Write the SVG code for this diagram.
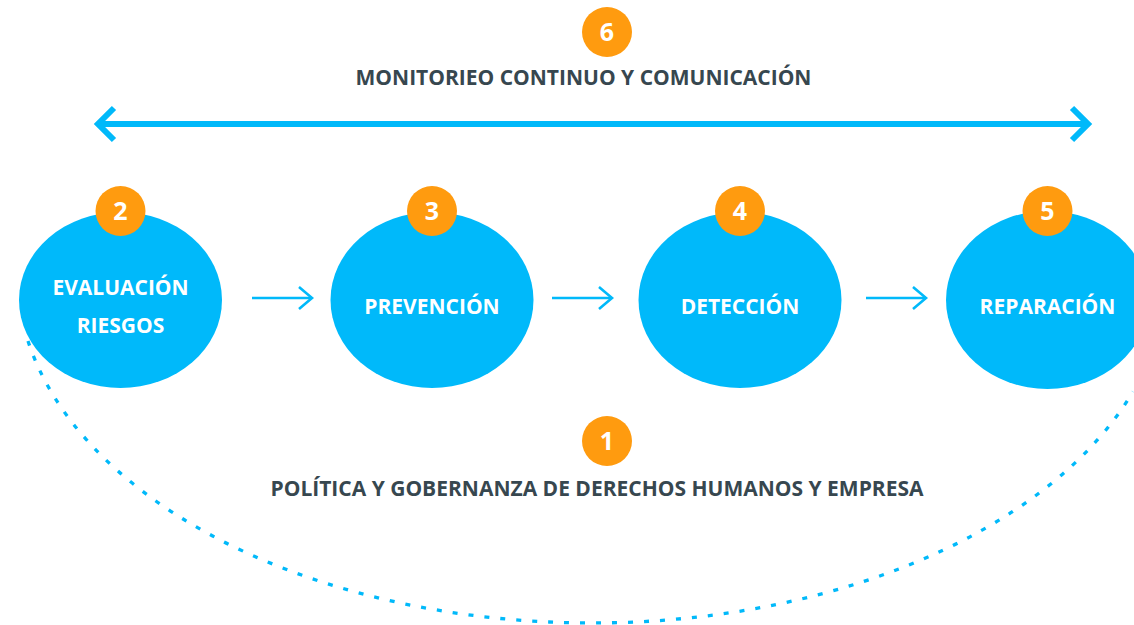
<svg xmlns="http://www.w3.org/2000/svg" width="1134" height="625" viewBox="0 0 1134 625">
<defs>
<style>
.node{fill:#00B9FA}
.badge{fill:#FF9B0F}
.num{fill:#fff;font-family:"Open Sans","Liberation Sans",sans-serif;font-weight:700;font-size:25px;text-anchor:middle}
.lbl{fill:#fff;font-family:"Open Sans","Liberation Sans",sans-serif;font-weight:700;font-size:21px;text-anchor:middle}
.title{fill:#37474F;font-family:"Open Sans","Liberation Sans",sans-serif;font-weight:700;font-size:21px;text-anchor:middle}
.big{fill:none;stroke:#00B9FA;stroke-width:6}
.small{fill:none;stroke:#00B9FA;stroke-width:2.6}
.dots{fill:none;stroke:#00B9FA;stroke-width:3.3;stroke-dasharray:5 11}
</style>
</defs>
<rect width="1134" height="625" fill="#fff"/>
<g id="connectors">
<path class="dots" d="M 28 341 A 575 350 0 0 0 1133 391.6"/>
<line class="big" x1="98" y1="124" x2="1088" y2="124"/>
<polyline class="big" points="114,108 98,124 114,140"/>
<polyline class="big" points="1072,108 1088,124 1072,140"/>
<line class="small" x1="252" y1="298" x2="312" y2="298"/>
<polyline class="small" points="299,287 312,298 299,309"/>
<line class="small" x1="552" y1="298" x2="612" y2="298"/>
<polyline class="small" points="599,287 612,298 599,309"/>
<line class="small" x1="866" y1="298" x2="926" y2="298"/>
<polyline class="small" points="913,287 926,298 913,309"/>
</g>
<g id="step6">
<circle class="badge" cx="607" cy="32" r="25"/>
<text class="num" x="607" y="41">6</text>
<text class="title" x="583.5" y="85">MONITORIEO CONTINUO Y COMUNICACIÓN</text>
</g>
<g id="step2">
<ellipse class="node" cx="120.5" cy="300" rx="101.5" ry="88"/>
<circle class="badge" cx="120.5" cy="211" r="25"/>
<text class="num" x="120.5" y="220">2</text>
<text class="lbl" x="120.5" y="295">EVALUACIÓN</text>
<text class="lbl" x="120.5" y="333">RIESGOS</text>
</g>
<g id="step3">
<ellipse class="node" cx="432" cy="300" rx="101.5" ry="88"/>
<circle class="badge" cx="432" cy="211" r="25"/>
<text class="num" x="432" y="220">3</text>
<text class="lbl" x="432" y="314">PREVENCIÓN</text>
</g>
<g id="step4">
<ellipse class="node" cx="740" cy="300" rx="101.5" ry="88"/>
<circle class="badge" cx="740" cy="211" r="25"/>
<text class="num" x="740" y="220">4</text>
<text class="lbl" x="740" y="314">DETECCIÓN</text>
</g>
<g id="step5">
<ellipse class="node" cx="1047.5" cy="300" rx="101.5" ry="89"/>
<circle class="badge" cx="1047.5" cy="211" r="25"/>
<text class="num" x="1047.5" y="220">5</text>
<text class="lbl" x="1047.5" y="314">REPARACIÓN</text>
</g>
<g id="step1">
<circle class="badge" cx="607" cy="441" r="25"/>
<text class="num" x="607" y="450">1</text>
<text class="title" x="597" y="496">POLÍTICA Y GOBERNANZA DE DERECHOS HUMANOS Y EMPRESA</text>
</g>
</svg>
